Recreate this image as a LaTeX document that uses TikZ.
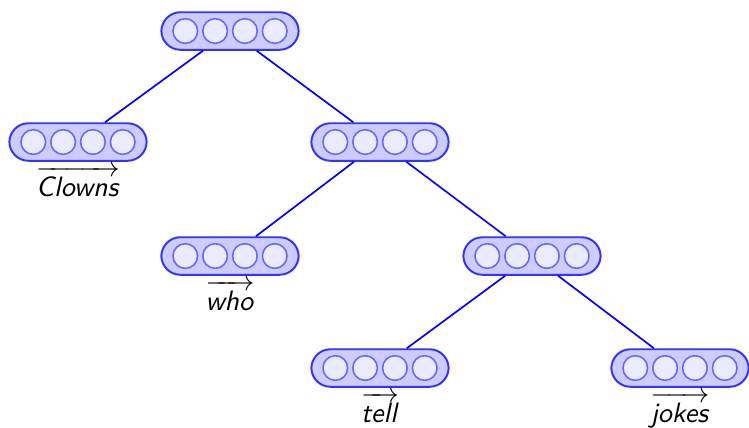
\documentclass[tikz,border=0pt]{standalone}
\usetikzlibrary{calc}
\tikzset{
  vecbox/.style={draw=blue!80, line width=0.7pt, fill=blue!20, rounded corners=6.8pt,
    minimum width=49pt, minimum height=13.4pt, inner sep=0pt},
  cell/.style={circle, draw=blue!60, line width=0.55pt, fill=blue!8,
    minimum size=8.8pt, inner sep=0pt},
  edge/.style={draw=blue, line width=0.6pt},
  lbl/.style={anchor=base, inner sep=0pt, font=\normalsize}
}
% a vector node: rounded box holding four cells
\newcommand\vecnode[2]{%
  \node[vecbox] (#1) at (#2) {};
  \foreach \k in {-1.5,-0.5,0.5,1.5}
    \node[cell] at ($(#1.center)+(\k*29.8,0)$) {};
}
% the word under a leaf, with its vector arrow
\newcommand\wordlabel[2]{%
  \node[lbl] (#1-w) at ([yshift=-12.3pt]#1.south)
    {$\overrightarrow{\rule{0pt}{7.9pt}\textsf{\textit{#2}}}$};
}
\begin{document}
\begin{tikzpicture}[x=0.357pt,y=-0.357pt]
  \useasboundingbox (0,0) rectangle (749,427);
  \vecnode{root}{230,31}
  \vecnode{clowns}{78,142}
  \vecnode{r1}{380,142}
  \vecnode{who}{230,256}
  \vecnode{r2}{532,256}
  \vecnode{tell}{380,368}
  \vecnode{jokes}{680,368}
  \draw[edge] (root) -- (clowns);
  \draw[edge] (root) -- (r1);
  \draw[edge] (r1) -- (who);
  \draw[edge] (r1) -- (r2);
  \draw[edge] (r2) -- (tell);
  \draw[edge] (r2) -- (jokes);
  \wordlabel{clowns}{Clowns}
  \wordlabel{who}{who}
  \wordlabel{tell}{tell}
  \wordlabel{jokes}{jokes}
\end{tikzpicture}
\end{document}
